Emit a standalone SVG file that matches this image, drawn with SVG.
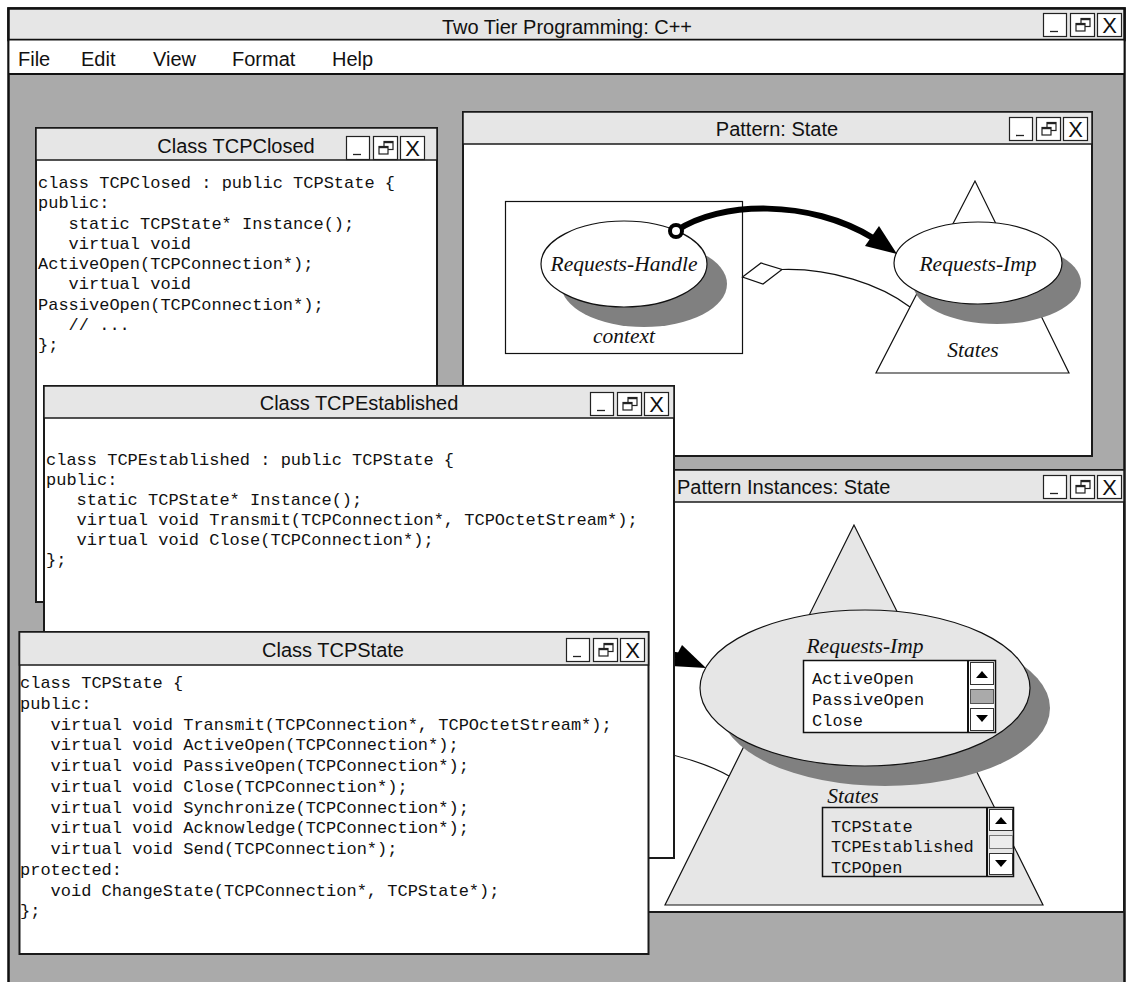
<svg xmlns="http://www.w3.org/2000/svg" width="1127" height="982" viewBox="0 0 1127 982">
<style>
.win{fill:#fff;stroke:#1a1a1a;stroke-width:2}
.tb{fill:#e6e6e6;stroke:#1a1a1a;stroke-width:1.5}
.ttl{font-family:"Liberation Sans",Arial,sans-serif;font-size:20px;fill:#111}
.code{font-family:"Liberation Mono","Courier New",monospace;font-size:17px;fill:#111}
.lbl{font-family:"Liberation Serif","Times New Roman",serif;font-style:italic;font-size:21.5px;fill:#111;text-anchor:middle}
.btn{fill:#fff;stroke:#222;stroke-width:1.2}
.shadow{fill:#808080}
.thin{fill:none;stroke:#111;stroke-width:1.2}
.thick{fill:none;stroke:#000;stroke-width:6}
.ell{stroke:#111;stroke-width:1.2}
.arr{fill:#000}
</style>
<defs>
<g id="ctrl">
<rect class="btn" x="0.5" y="0.5" width="23" height="23"/>
<line x1="7" y1="18.5" x2="15" y2="18.5" stroke="#222" stroke-width="1.3"/>
<rect class="btn" x="27.5" y="0.5" width="24" height="23"/>
<rect x="38" y="5.5" width="9" height="8" fill="#fff" stroke="#222" stroke-width="1.2"/>
<rect x="38" y="5" width="9" height="2.2" fill="#222"/>
<rect x="33" y="10.5" width="9" height="7.5" fill="#fff" stroke="#222" stroke-width="1.2"/>
<rect x="33" y="10" width="9" height="2.2" fill="#222"/>
<rect class="btn" x="54.5" y="0.5" width="24" height="23"/>
<text x="66.5" y="20" text-anchor="middle" font-family="Liberation Sans, Arial, sans-serif" font-size="22" fill="#111">X</text>
</g>
</defs>

<g id="main-window">
<rect x="0" y="0" width="1127" height="982" fill="#fff"/>
<rect x="8.5" y="8.5" width="1116" height="990" fill="#aaaaaa" stroke="#111" stroke-width="2.5"/>
<rect x="8.5" y="8.5" width="1116" height="31.5" fill="#e6e6e6" stroke="#111" stroke-width="2.5"/>
<rect x="9.5" y="40.5" width="1114" height="33.5" fill="#fff"/>
<line x1="8.5" y1="74" x2="1124.5" y2="74" stroke="#111" stroke-width="2"/>
<text class="ttl" x="567" y="34" text-anchor="middle" font-size="21.5">Two Tier Programming: C++</text>
<use href="#ctrl" x="1043" y="13"/>
<text class="ttl" x="18" y="66">File</text>
<text class="ttl" x="81" y="66">Edit</text>
<text class="ttl" x="153" y="66">View</text>
<text class="ttl" x="232" y="66">Format</text>
<text class="ttl" x="332" y="66">Help</text>
</g>

<g id="win-tcpclosed">
<rect class="win" x="36" y="128" width="401" height="474"/>
<rect class="tb" x="36" y="128" width="401" height="32"/>
<text class="ttl" x="236" y="153" text-anchor="middle">Class TCPClosed</text>
<use href="#ctrl" x="346" y="136"/>
<text class="code" x="38" y="188">class TCPClosed : public TCPState {</text>
<text class="code" x="38" y="208.25">public:</text>
<text class="code" x="68.6" y="228.5">static TCPState* Instance();</text>
<text class="code" x="68.6" y="248.75">virtual void</text>
<text class="code" x="38" y="269">ActiveOpen(TCPConnection*);</text>
<text class="code" x="68.6" y="289.25">virtual void</text>
<text class="code" x="38" y="309.5">PassiveOpen(TCPConnection*);</text>
<text class="code" x="68.6" y="329.75">// ...</text>
<text class="code" x="38" y="350">};</text>
</g>

<g id="win-pattern-state">
<rect class="win" x="463" y="112" width="629" height="344"/>
<rect class="tb" x="463" y="112" width="629" height="32"/>
<text class="ttl" x="777" y="136" text-anchor="middle">Pattern: State</text>
<use href="#ctrl" x="1009" y="117"/>
<g id="node-context">
<rect x="505.5" y="201.5" width="237" height="152" fill="#fff" stroke="#111" stroke-width="1.2"/>
<ellipse class="shadow" cx="644" cy="284" rx="83" ry="43"/>
<ellipse class="ell" cx="624" cy="264" rx="83" ry="43" fill="#fff"/>
<text class="lbl" x="624" y="271">Requests-Handle</text>
<text class="lbl" x="624" y="343">context</text>
</g>
<g id="node-states">
<polygon points="975,181 876,373 1069,373" fill="#fff" stroke="#111" stroke-width="1.2"/>
<ellipse class="shadow" cx="997" cy="283" rx="84" ry="41"/>
<ellipse class="ell" cx="978" cy="263" rx="84" ry="41" fill="#fff"/>
<text class="lbl" x="978" y="271">Requests-Imp</text>
<text class="lbl" x="973" y="357">States</text>
</g>
</g>

<g id="win-pattern-instances">
<rect class="win" x="600" y="470" width="524" height="442"/>
<rect class="tb" x="600" y="470" width="524" height="32"/>
<text class="ttl" x="677" y="494">Pattern Instances: State</text>
<use href="#ctrl" x="1043" y="475"/>
<g id="node-inst-states">
<polygon points="854,525 665,905 1043,905" fill="#e6e6e6" stroke="#111" stroke-width="1.2"/>
<ellipse class="shadow" cx="885" cy="708" rx="165" ry="78"/>
<ellipse class="ell" cx="865" cy="688" rx="165" ry="78" fill="#e6e6e6"/>
<text class="lbl" x="865" y="653">Requests-Imp</text>
<g id="list-requests">
<rect x="803.5" y="660.5" width="192" height="72" fill="#fff" stroke="#111" stroke-width="1.5"/>
<line x1="968" y1="660.5" x2="968" y2="732.5" stroke="#111" stroke-width="2"/>
<rect x="970.5" y="662.5" width="23" height="22" fill="#fff" stroke="#333" stroke-width="1"/>
<polygon points="976,678 988,678 982,671" fill="#000"/>
<rect x="970.5" y="689.5" width="23" height="14" fill="#aaaaaa" stroke="#555" stroke-width="1"/>
<rect x="970.5" y="708.5" width="23" height="22" fill="#fff" stroke="#333" stroke-width="1"/>
<polygon points="976,715 988,715 982,722" fill="#000"/>
<text class="code" x="812" y="684">ActiveOpen</text>
<text class="code" x="812" y="705">PassiveOpen</text>
<text class="code" x="812" y="726">Close</text>
</g>
<text class="lbl" x="853" y="803">States</text>
<g id="list-states">
<rect x="822.5" y="807.5" width="191" height="69" fill="#e6e6e6" stroke="#111" stroke-width="1.5"/>
<line x1="987" y1="807.5" x2="987" y2="876.5" stroke="#111" stroke-width="2"/>
<rect x="989.5" y="809.5" width="23" height="21" fill="#fff" stroke="#333" stroke-width="1"/>
<polygon points="995,824 1007,824 1001,817" fill="#000"/>
<rect x="989.5" y="835.5" width="23" height="13" fill="#ececec" stroke="#777" stroke-width="1"/>
<rect x="989.5" y="853.5" width="23" height="21" fill="#fff" stroke="#333" stroke-width="1"/>
<polygon points="995,860 1007,860 1001,867" fill="#000"/>
<text class="code" x="831" y="832">TCPState</text>
<text class="code" x="831" y="852">TCPEstablished</text>
<text class="code" x="831" y="873">TCPOpen</text>
</g>
</g>
</g>

<g id="connectors">
<path class="thick" d="M676 231 C720 201 810 199 873 238"/>
<polygon class="arr" points="897,254 865,246 879,226"/>
<circle cx="676" cy="231" r="6" fill="#fff" stroke="#000" stroke-width="4"/>
<polygon points="742.5,277 761,263 782,269.5 763,284" fill="#fff" stroke="#111" stroke-width="1.2"/>
<path class="thin" d="M782 269.5 C830 268 880 284 910 307"/>
<path class="thick" d="M590 640 L681 656"/>
<polygon class="arr" points="706,668 682,645 671,666"/>
<path class="thin" d="M560 738 Q680 748 729 776"/>
</g>

<g id="win-tcpestablished">
<rect class="win" x="44" y="386" width="630" height="472"/>
<rect class="tb" x="44" y="386" width="630" height="32"/>
<text class="ttl" x="359" y="410" text-anchor="middle">Class TCPEstablished</text>
<use href="#ctrl" x="590" y="392"/>
<text class="code" x="46" y="465">class TCPEstablished : public TCPState {</text>
<text class="code" x="46" y="485">public:</text>
<text class="code" x="76.6" y="505">static TCPState* Instance();</text>
<text class="code" x="76.6" y="525">virtual void Transmit(TCPConnection*, TCPOctetStream*);</text>
<text class="code" x="76.6" y="545">virtual void Close(TCPConnection*);</text>
<text class="code" x="46" y="565">};</text>
</g>

<g id="win-tcpstate">
<rect class="win" x="19.5" y="632" width="629" height="322"/>
<rect class="tb" x="19.5" y="632" width="629" height="33"/>
<text class="ttl" x="333" y="657" text-anchor="middle">Class TCPState</text>
<use href="#ctrl" x="566" y="638"/>
<text class="code" x="20" y="688">class TCPState {</text>
<text class="code" x="20" y="708.75">public:</text>
<text class="code" x="50.6" y="729.5">virtual void Transmit(TCPConnection*, TCPOctetStream*);</text>
<text class="code" x="50.6" y="750.25">virtual void ActiveOpen(TCPConnection*);</text>
<text class="code" x="50.6" y="771">virtual void PassiveOpen(TCPConnection*);</text>
<text class="code" x="50.6" y="791.75">virtual void Close(TCPConnection*);</text>
<text class="code" x="50.6" y="812.5">virtual void Synchronize(TCPConnection*);</text>
<text class="code" x="50.6" y="833.25">virtual void Acknowledge(TCPConnection*);</text>
<text class="code" x="50.6" y="854">virtual void Send(TCPConnection*);</text>
<text class="code" x="20" y="874.75">protected:</text>
<text class="code" x="50.6" y="895.5">void ChangeState(TCPConnection*, TCPState*);</text>
<text class="code" x="20" y="916.25">};</text>
</g>
</svg>
